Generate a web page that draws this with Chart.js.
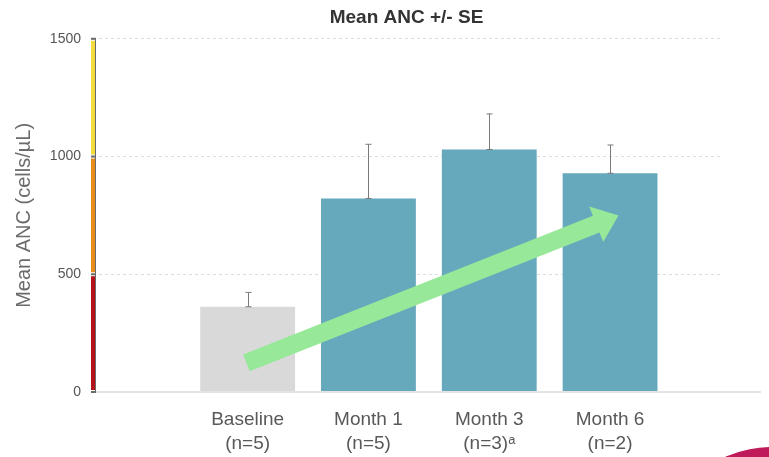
<!DOCTYPE html>
<html>
<head>
<meta charset="utf-8">
<title>Mean ANC +/- SE</title>
<script src="https://cdn.jsdelivr.net/npm/chart.js@4.4.1/dist/chart.umd.min.js"></script>
<style>
  html, body { margin: 0; padding: 0; background: #fff; }
  #wrap { width: 769px; height: 457px; position: relative; }
</style>
</head>
<body>
<div id="wrap"><canvas id="ancChart"></canvas></div>
<script>
// chart data
const labels = ['Baseline', 'Month 1', 'Month 3', 'Month 6'];
const nLabels = ['(n=5)', '(n=5)', '(n=3)\u1d43', '(n=2)'];
const xPos = [1, 2, 3, 4];
const meanAnc = [362, 822, 1030, 929];
const seAnc = [61, 230, 151, 120];
const barColors = ['#d9d9d9', '#66a8bc', '#66a8bc', '#66a8bc'];

// y axis ticks and the coloured ANC bands on the axis
const yTicks = [0, 500, 1000, 1500];
const bandEdges = [0, 500, 1000, 1500];
const bandColors = ['#b3121b', '#ea8a1a', '#f4db3e'];

// trend arrow, in data units: [x, y]
const arrowFrom = [0.99, 124];
const arrowTo = [4.07, 750];

// error bars drawn from meanAnc / seAnc
const errorBars = {
  id: 'errorBars',
  afterDatasetsDraw(chart) {
    const { ctx, scales: { x, y } } = chart;
    ctx.save();
    ctx.strokeStyle = '#7a7a7a';
    ctx.lineWidth = 1;
    xPos.forEach((xv, i) => {
      const px = Math.round(x.getPixelForValue(xv)) + 0.5;
      const top = y.getPixelForValue(meanAnc[i] + seAnc[i]);
      const base = y.getPixelForValue(meanAnc[i]);
      ctx.beginPath();
      ctx.moveTo(px, top);
      ctx.lineTo(px, base);
      ctx.moveTo(px - 3, top);
      ctx.lineTo(px + 3, top);
      ctx.moveTo(px - 3, base);
      ctx.lineTo(px + 3, base);
      ctx.stroke();
    });
    ctx.restore();
  }
};

// green arrow over the bars
const trendArrow = {
  id: 'trendArrow',
  afterDatasetsDraw(chart) {
    const { ctx, scales: { x, y } } = chart;
    const x0 = x.getPixelForValue(arrowFrom[0]), y0 = y.getPixelForValue(arrowFrom[1]);
    const x1 = x.getPixelForValue(arrowTo[0]), y1 = y.getPixelForValue(arrowTo[1]);
    const len = Math.hypot(x1 - x0, y1 - y0);
    const ang = Math.atan2(y1 - y0, x1 - x0);
    const shaft = 9, head = 19, headLen = 24;
    ctx.save();
    ctx.translate(x0, y0);
    ctx.rotate(ang);
    ctx.fillStyle = '#97e898';
    ctx.beginPath();
    ctx.moveTo(0, -shaft);
    ctx.lineTo(len - headLen, -shaft);
    ctx.lineTo(len - headLen, -head);
    ctx.lineTo(len, 0);
    ctx.lineTo(len - headLen, head);
    ctx.lineTo(len - headLen, shaft);
    ctx.lineTo(0, shaft);
    ctx.closePath();
    ctx.fill();
    ctx.restore();
  }
};

// coloured y axis, baseline and corner decoration
const axisDecor = {
  id: 'axisDecor',
  afterDraw(chart) {
    const { ctx, chartArea, scales: { y } } = chart;
    const ax = chartArea.left;
    ctx.save();
    // baseline at 0
    ctx.strokeStyle = '#e4e4e4';
    ctx.lineWidth = 2;
    ctx.beginPath();
    ctx.moveTo(ax, y.getPixelForValue(0));
    ctx.lineTo(761, y.getPixelForValue(0));
    ctx.stroke();
    // bands
    for (let i = 0; i < bandColors.length; i++) {
      const yb = y.getPixelForValue(bandEdges[i]) - 2;
      const yt = y.getPixelForValue(bandEdges[i + 1]) + 2;
      ctx.fillStyle = bandColors[i];
      ctx.fillRect(ax - 2, yt, 4, yb - yt);
    }
    ctx.fillStyle = '#6a6a6a';
    ctx.fillRect(ax + 2, y.getPixelForValue(1500), 1, y.getPixelForValue(0) - y.getPixelForValue(1500));
    bandEdges.forEach(v => {
      ctx.fillRect(ax - 2, y.getPixelForValue(v) - 1, 5, 2);
    });
    // pink circle in the corner
    ctx.fillStyle = '#bf1a5a';
    ctx.beginPath();
    ctx.arc(772, 562, 115, 0, Math.PI * 2);
    ctx.fill();
    ctx.restore();
  }
};

const ctx = document.getElementById('ancChart').getContext('2d');

new Chart(ctx, {
  type: 'bar',
  data: {
    datasets: [{
      data: xPos.map((xv, i) => ({ x: xv, y: meanAnc[i] })),
      backgroundColor: barColors,
      borderWidth: 0,
      categoryPercentage: 1,
      barPercentage: 0.785
    }]
  },
  options: {
    responsive: true,
    maintainAspectRatio: false,
    animation: false,
    layout: { padding: { right: 49, left: 0, bottom: 0, top: 0 } },
    plugins: {
      legend: { display: false },
      tooltip: { enabled: false },
      title: {
        display: true,
        text: 'Mean ANC +/- SE',
        fullSize: false,
        color: '#333333',
        font: { family: 'Arial, "Liberation Sans", sans-serif', size: 19, weight: 'bold', lineHeight: 1.2 },
        padding: { top: 6, bottom: 10 }
      }
    },
    scales: {
      x: {
        type: 'linear',
        offset: false,
        min: -0.28,
        max: 4.91,
        grid: { display: false, drawTicks: false, offset: false },
        border: { display: false },
        afterBuildTicks: axis => { axis.ticks = xPos.map(v => ({ value: v })); },
        afterFit: s => { s.height = 65; },
        ticks: {
          autoSkip: false,
          maxRotation: 0,
          padding: 16,
          color: '#595959',
          font: { family: 'Arial, "Liberation Sans", sans-serif', size: 19, lineHeight: 1.26 },
          callback: value => {
            const i = xPos.indexOf(value);
            return i >= 0 ? [labels[i], nLabels[i]] : '';
          }
        }
      },
      y: {
        min: 0,
        max: 1500,
        afterBuildTicks: axis => { axis.ticks = yTicks.map(v => ({ value: v })); },
        afterFit: s => { s.width = 93; },
        border: { display: false, dash: [3, 3] },
        grid: {
          drawTicks: false,
          color: c => (c.tick && c.tick.value === 0) ? 'rgba(0,0,0,0)' : '#dcdcdc'
        },
        ticks: {
          padding: 12,
          color: '#555555',
          font: { family: 'Arial, "Liberation Sans", sans-serif', size: 14 },
          callback: value => String(value)
        },
        title: {
          display: true,
          text: 'Mean ANC (cells/\u00b5L)',
          color: '#6b6b6b',
          font: { family: 'Arial, "Liberation Sans", sans-serif', size: 20, lineHeight: 1.2 },
          padding: { top: 12, bottom: 0 }
        }
      }
    }
  },
  plugins: [errorBars, trendArrow, axisDecor]
});
</script>
</body>
</html>
